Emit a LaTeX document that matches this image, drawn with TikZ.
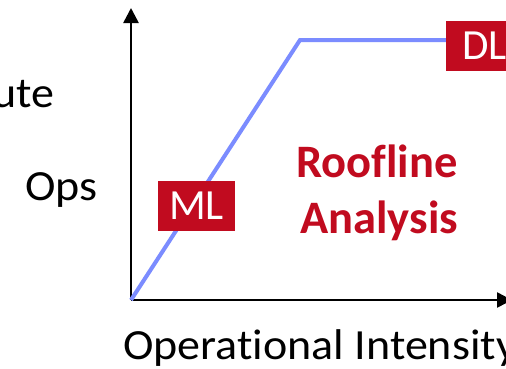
\documentclass[tikz,border=0pt]{standalone}
\usepackage{fontspec}
\setmainfont{Carlito}[Ligatures={NoCommon,NoContextual}]
\usetikzlibrary{arrows.meta}
\definecolor{roofblue}{HTML}{7B8CFF}
\definecolor{tagred}{HTML}{C10B1F}
\begin{document}
\begin{tikzpicture}[x=1pt,y=-1pt,
  axis/.style={line width=2.6pt,-{Triangle[length=15pt,width=15pt]}},
  roof/.style={line width=4pt,roofblue},
  tag/.style={fill=tagred,text=white,font=\fontsize{43}{50}\selectfont,minimum width=77pt,minimum height=50pt,inner sep=0pt},
  lbl/.style={font=\fontsize{43}{50}\selectfont,inner sep=0pt,xscale=1.07},
  title/.style={font=\fontsize{46.5}{54}\selectfont\bfseries,text=tagred,inner sep=0pt}]
\useasboundingbox (0,0) rectangle (506,368);
\clip (0,0) rectangle (506,368);
\fill[white] (0,0) rectangle (506,368);
\coordinate (O) at (131,300);
\coordinate (ytip) at (131,8);
\coordinate (xtip) at (512,300);
\coordinate (R) at (300,40);
\coordinate (E) at (480,40);
\draw[axis] (O) -- (ytip);
\draw[axis] (O) -- (xtip);
\draw[roof] (O) -- (R) -- (E);
\node[tag] (ml) at (196.5,206) {ML};
\node[tag,anchor=west] (dl) at (446,46) {DL};
\node[title,anchor=base] (roofl) at (377,177) {Roofline};
\node[title,anchor=base] (anal) at (379,233) {Analysis};
\node[lbl,anchor=base east] (comp) at (55,107) {Compute};
\node[lbl,anchor=base west] (ops) at (25,200) {Ops};
\node[lbl,anchor=base west] (oi) at (123,359) {Operational Intensity};
\end{tikzpicture}
\end{document}
